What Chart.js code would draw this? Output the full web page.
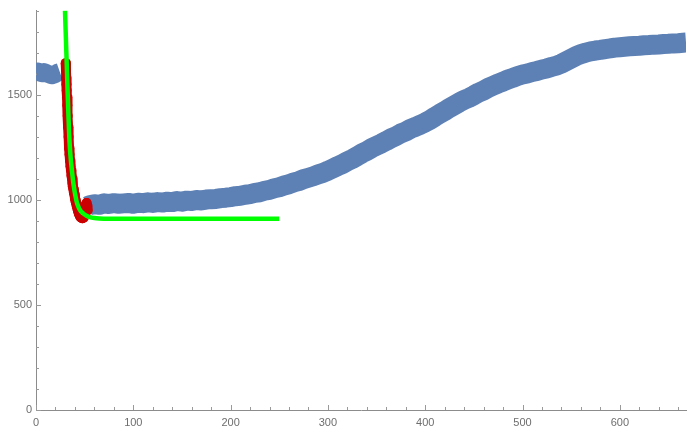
<!DOCTYPE html>
<html><head><meta charset="utf-8">
<script src="https://cdn.jsdelivr.net/npm/chart.js@4.4.1/dist/chart.umd.min.js"></script>
<style>html,body{margin:0;padding:0;background:#fff;} canvas{display:block;}</style>
</head><body>
<canvas id="c" width="691" height="438"></canvas>
<script>
// ---- data ----
const plateauX = [0, 2, 4, 6, 8, 10, 12, 14, 16, 18, 20, 22, 24.5];
const plateauY = [1605, 1610, 1606, 1602, 1608, 1604, 1600, 1596, 1592, 1595, 1599, 1604, 1608];

const mainX = [53.5, 55, 60, 65, 70, 75, 80, 85, 90, 95, 100, 105, 110, 115, 120, 125, 130, 135, 140, 145,
  150, 155, 160, 165, 170, 175, 180, 185, 190, 195, 200, 205, 210, 215, 220, 225, 230, 235, 240, 245,
  250, 255, 260, 265, 270, 275, 280, 285, 290, 295, 300, 305, 310, 315, 320, 325, 330, 335, 340, 345,
  350, 355, 360, 365, 370, 375, 380, 385, 390, 395, 400, 405, 410, 415, 420, 425, 430, 435, 440, 445,
  450, 455, 460, 465, 470, 475, 480, 485, 490, 495, 500, 505, 510, 515, 520, 525, 530, 535, 540, 545,
  550, 555, 560, 565, 570, 575, 580, 585, 590, 595, 600, 605, 610, 615, 620, 625, 630, 635, 640, 645,
  650, 655, 660, 665, 668];
const mainY = [970, 974, 979, 976, 983, 980, 984, 981, 983, 985, 981, 986, 984, 988, 985, 989, 987, 991, 989, 994,
  991, 996, 994, 999, 997, 1001, 1003, 1004, 1008, 1010, 1013, 1017, 1019, 1024, 1027, 1033, 1036, 1043, 1047, 1055,
  1060, 1068, 1074, 1083, 1089, 1098, 1105, 1112, 1121, 1128, 1138, 1149, 1160, 1170, 1183, 1194, 1207, 1221, 1232, 1246,
  1257, 1268, 1280, 1293, 1303, 1316, 1325, 1338, 1347, 1357, 1368, 1380, 1395, 1409, 1422, 1437, 1450, 1463, 1475, 1485,
  1497, 1510, 1520, 1533, 1543, 1553, 1562, 1572, 1580, 1589, 1596, 1601, 1608, 1613, 1620, 1625, 1632, 1638, 1648, 1660,
  1672, 1684, 1693, 1700, 1706, 1710, 1713, 1717, 1720, 1724, 1726, 1728, 1730, 1732, 1733, 1735, 1736, 1738, 1739, 1741,
  1742, 1744, 1745, 1747, 1748];

const redX = [30.5, 30.8, 31.0, 31.3, 31.6, 31.9, 32.2, 32.6, 33.0, 33.5, 34.0, 34.5, 35.0, 35.5, 36.0, 36.5, 37.0, 37.5,
  38.0, 38.5, 39.0, 39.5, 40.0, 40.5, 41.0, 41.5, 42.0, 42.5, 43.0, 43.5, 44.0, 44.5, 45.0, 45.5, 46.0, 46.5,
  47.0, 47.5, 48.0, 48.5, 49.0, 49.5, 50.0, 50.5, 51.0, 51.5, 52.0, 52.5, 53.0];
const redY = [1650, 1620, 1580, 1550, 1520, 1488, 1450, 1400, 1345, 1300, 1245, 1215, 1185, 1160, 1140, 1115, 1100, 1080,
  1065, 1050, 1035, 1025, 1008, 998, 988, 980, 968, 962, 950, 945, 935, 930, 925, 920, 918, 915,
  916, 912, 914, 915, 918, 922, 930, 945, 960, 975, 985, 970, 950];

const fitX = [29.8, 30.5, 31.2, 31.9, 32.6, 33.3, 34.0, 34.8, 35.7, 36.8, 38.1, 39.5, 40.5, 41.6, 43, 44.5, 46, 48, 50, 52.5, 55, 60, 65, 75, 250];
const fitY = [1900, 1800, 1700, 1600, 1500, 1405, 1320, 1250, 1195, 1145, 1090, 1045, 1020, 994, 973, 957, 946, 937, 930, 923, 918, 913, 911, 910, 910];

const xTickValues = [0, 100, 200, 300, 400, 500, 600];
const yTickValues = [0, 500, 1000, 1500];
const xMinorStep = 20, yMinorStep = 100;

function pts(xs, ys) { return xs.map((x, i) => ({ x: x, y: ys[i] })); }

const FONT = { family: "'Liberation Sans', Arial, sans-serif", size: 11 };
const AXIS = '#8c8c8c';

const tickPlugin = {
  id: 'inTicks',
  beforeDatasetsDraw(chart) {
    const { ctx, scales: { x, y } } = chart;
    ctx.save();
    ctx.strokeStyle = '#9a9a9a';
    ctx.lineWidth = 1;
    const y0 = y.getPixelForValue(0), x0 = x.getPixelForValue(0);
    for (let v = 0; v <= x.max; v += xMinorStep) {
      const px = Math.round(x.getPixelForValue(v)) + 0.5;
      const len = xTickValues.includes(v) ? 5 : 3;
      ctx.beginPath(); ctx.moveTo(px, y0); ctx.lineTo(px, y0 - len); ctx.stroke();
    }
    for (let v = 0; v <= y.max; v += yMinorStep) {
      const py = Math.round(y.getPixelForValue(v)) + 0.5;
      const len = yTickValues.includes(v) ? 5 : 3;
      ctx.beginPath(); ctx.moveTo(x0, py); ctx.lineTo(x0 + len, py); ctx.stroke();
    }
    ctx.restore();
  }
};

new Chart(document.getElementById('c'), {
  type: 'scatter',
  data: {
    datasets: [
      { label: 'fit', data: pts(fitX, fitY), showLine: true, borderColor: '#00ff00', borderWidth: 4.5,
        pointRadius: 0, cubicInterpolationMode: 'monotone', borderCapStyle: 'butt', order: 0, clip: 0 },
      { label: 'fitted data', data: pts(redX, redY), showLine: true, borderColor: '#cc0000', borderWidth: 10,
        borderJoinStyle: 'round', backgroundColor: '#cc0000', pointBorderWidth: 0,
        pointRadius: 5, pointHoverRadius: 5, order: 1 },
      { label: 'before', data: pts(plateauX, plateauY), showLine: true, borderColor: '#5e81b5', borderWidth: 18,
        pointRadius: 0, borderJoinStyle: 'round', borderCapStyle: 'butt', order: 2 },
      { label: 'after', data: pts(mainX, mainY), showLine: true, borderColor: '#5e81b5', borderWidth: 20,
        pointRadius: 0, borderJoinStyle: 'round', borderCapStyle: 'butt', order: 3 }
    ]
  },
  options: {
    responsive: false, animation: false, devicePixelRatio: 1,
    layout: { padding: { top: 8, right: 1, left: 0, bottom: 0 } },
    plugins: { legend: { display: false }, tooltip: { enabled: false } },
    events: [],
    scales: {
      x: {
        type: 'linear', min: 0, max: 668,
        afterBuildTicks: s => { s.ticks = xTickValues.map(v => ({ value: v })); },
        afterFit: s => { s.height = 28; },
        grid: { display: true, drawOnChartArea: false, drawTicks: false },
        border: { display: true, color: AXIS, width: 1 },
        ticks: { padding: 6, color: '#6e6e6e', font: FONT, maxRotation: 0, autoSkip: false, callback: v => String(v) }
      },
      y: {
        type: 'linear', min: 0, max: 1900,
        afterBuildTicks: s => { s.ticks = yTickValues.map(v => ({ value: v })); },
        afterFit: s => { s.width = 36; },
        grid: { display: true, drawOnChartArea: false, drawTicks: false },
        border: { display: true, color: AXIS, width: 1 },
        ticks: { padding: 4, color: '#6e6e6e', font: FONT, autoSkip: false, callback: v => String(v) }
      }
    }
  },
  plugins: [tickPlugin]
});
</script>
</body></html>
